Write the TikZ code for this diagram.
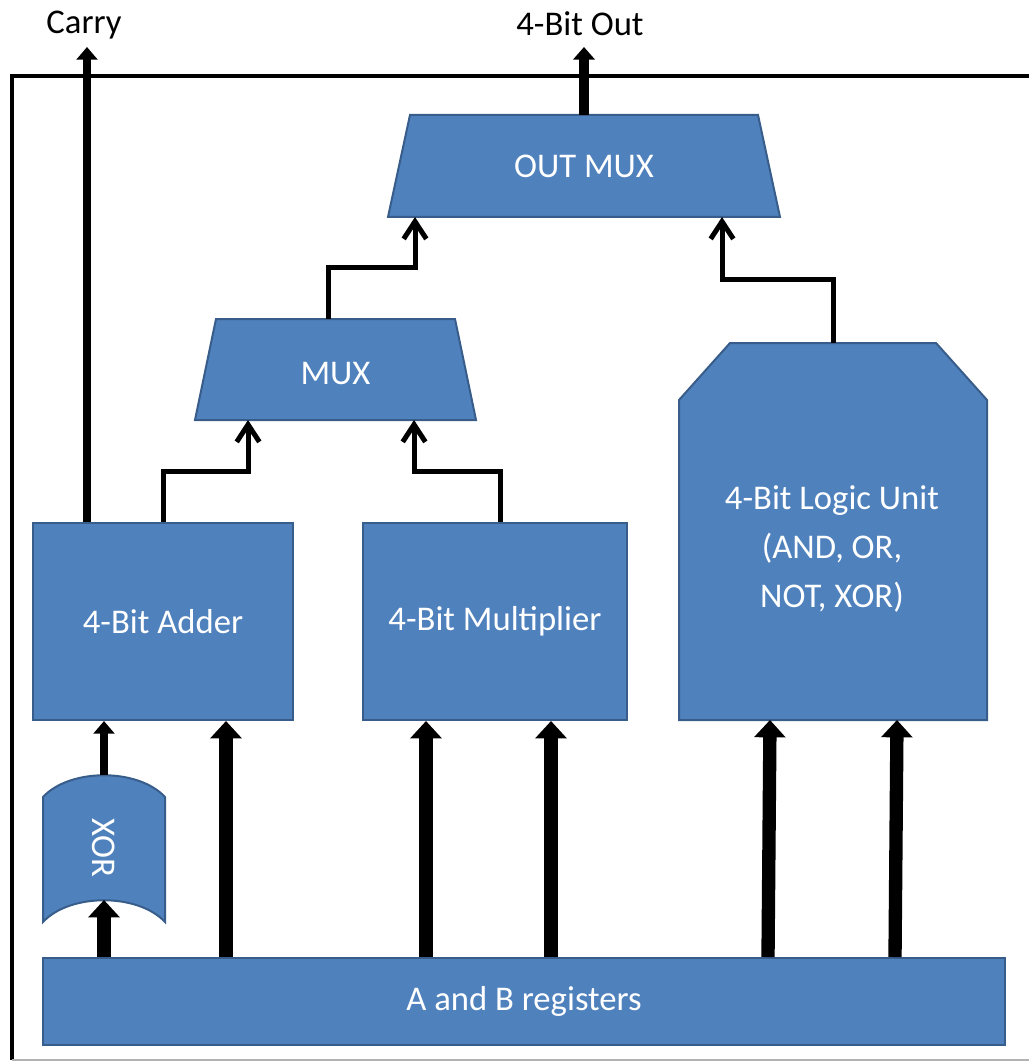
\documentclass[tikz,border=0pt]{standalone}
\usepackage{fontspec}
\setmainfont{Carlito}
\usetikzlibrary{arrows.meta}
\definecolor{boxfill}{HTML}{4F81BD}
\definecolor{boxline}{HTML}{385D8A}
\begin{document}
\begin{tikzpicture}[x=0.75pt,y=-0.75pt,
  blk/.style={fill=boxfill,draw=boxline,line width=1.5pt},
  lbl/.style={text=white,font=\fontsize{26}{37}\selectfont,align=center},
  outlbl/.style={text=black,font=\fontsize{26}{30}\selectfont},
  bus/.style={line width=10pt,-{Triangle[width=23pt,length=13pt]}},
  thinbus/.style={line width=6.5pt,-{Triangle[width=15.5pt,length=9.5pt]}},
  wire/.style={line width=3.75pt,-{Straight Barb[width=17pt,length=13pt]}},
  frame/.style={inner sep=0pt,outer sep=0pt}
]
\useasboundingbox (0,0) rectangle (1029,1062);
% frame
\draw[line width=3pt] (12,1060) -- (12,76) -- (1029,76);
\draw[gray!60,line width=1pt] (12,1060) -- (1029,1060);

% blocks
\node[blk,minimum width=195pt,minimum height=147.75pt] (adder) at (163,621.5) {};
\node[lbl] at (adder) {4-Bit Adder};
\node[blk,minimum width=198pt,minimum height=147.75pt] (mult) at (495,621.5) {};
\node[lbl] at (mult) {4-Bit Multiplier};
\node[blk,minimum width=721.5pt,minimum height=65.25pt] (regs) at (524,1001.5) {};
\node[lbl] at (regs) {A and B registers};
\node[frame,minimum width=294pt,minimum height=76.5pt] (outmux) at (584,166) {};
\path[blk] (outmux.south west) -- (410,115) -- (758,115) -- (outmux.south east) -- cycle;
\node[lbl] at (outmux) {OUT MUX};
\node[frame,minimum width=210.75pt,minimum height=75.75pt] (mux) at (335.5,369.5) {};
\path[blk] (mux.south west) -- (216,319) -- (455,319) -- (mux.south east) -- cycle;
\node[lbl] at ([yshift=-3pt]mux.center) {MUX};
\node[frame,minimum width=231pt,minimum height=282.75pt] (lu) at (833,531.5) {};
\path[blk] (lu.south west) -- (679,400) -- (730,343) -- (936,343) -- (987,400) -- (lu.south east) -- cycle;
\node[lbl] at (832,549) {4-Bit Logic Unit\\(AND, OR,\\NOT, XOR)};
% XOR gate
\path[blk] (43,797) .. controls (70,768) and (138,768) .. (165,797) -- (165,922)
  .. controls (138,893) and (70,893) .. (43,922) -- cycle;
\node[lbl,rotate=-90] (xor) at (104,848) {XOR};
\coordinate (xortop) at (104,775);
\coordinate (xorbot) at (104,900);

% labels
\coordinate (carrytip) at (87,47);
\node[outlbl] (carry) at (84,25) {Carry};
\node[outlbl] (out) at (580,24) {4-Bit Out};

% outputs
\draw[thinbus] ([xshift=-57pt]adder.north) -- ([xshift=-57pt]adder.north |- carrytip);
\draw[line width=7.5pt,-{Triangle[width=16pt,length=9.5pt]}] (outmux.north) -- (outmux.north |- carrytip);

% internal wires
\draw[wire] (adder.north) -- ++(0,-51) -| ([xshift=-65.6pt]mux.south);
\draw[wire] ([xshift=3.75pt]mult.north) -- ++(0,-51) -| ([xshift=58.9pt]mux.south);
\draw[wire] ([xshift=-5pt]mux.north) -- ++(0,-51) -| ([xshift=-126.75pt]outmux.south);
\draw[wire] (lu.north) -- ++(0,-63) -| ([xshift=103.5pt]outmux.south);

% buses from registers
\draw[bus] ([xshift=-315pt]regs.north) -- (xorbot);
\draw[thinbus] (xortop) -- ([xshift=-44.25pt]adder.south);
\draw[bus] ([xshift=-223.5pt]regs.north) -- ([xshift=47.25pt]adder.south);
\draw[bus] ([xshift=-73.5pt]regs.north) -- ([xshift=-51.75pt]mult.south);
\draw[bus] ([xshift=20.25pt]regs.north) -- ([xshift=42pt]mult.south);
\draw[bus] ([xshift=183pt]regs.north) -- ([xshift=-47.25pt]lu.south);
\draw[bus] ([xshift=278.25pt]regs.north) -- ([xshift=48pt]lu.south);
\end{tikzpicture}
\end{document}
